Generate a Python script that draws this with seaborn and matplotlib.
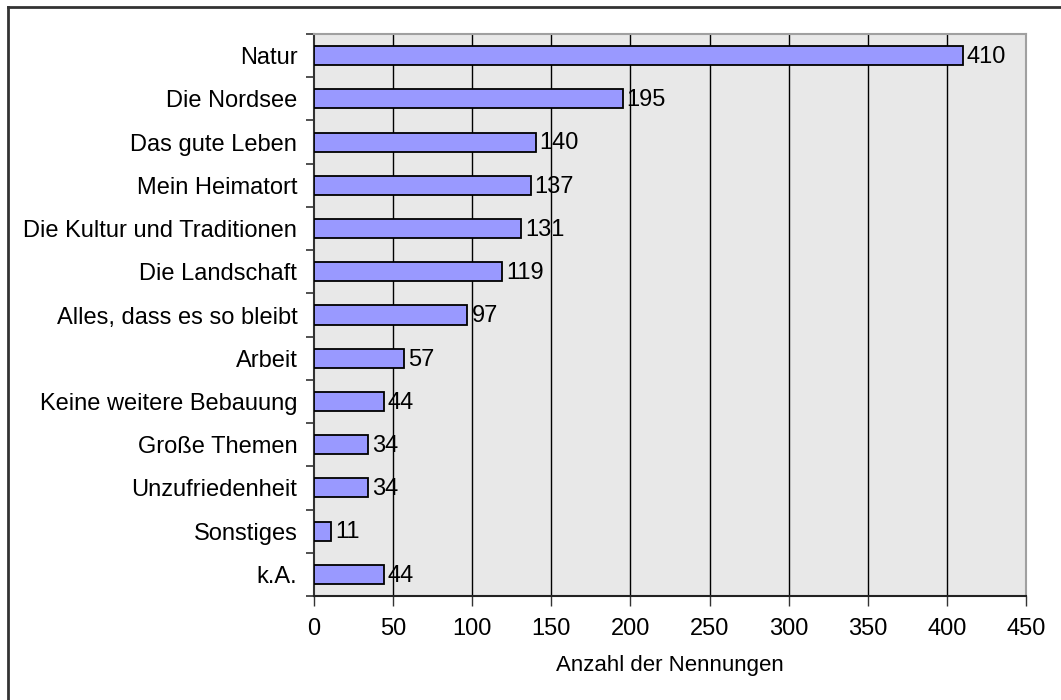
import matplotlib
matplotlib.use("Agg")
import matplotlib.pyplot as plt
from matplotlib.lines import Line2D
import seaborn as sns
import pandas as pd

categories = ["Natur", "Die Nordsee", "Das gute Leben", "Mein Heimatort",
              "Die Kultur und Traditionen", "Die Landschaft",
              "Alles, dass es so bleibt", "Arbeit", "Keine weitere Bebauung",
              "Große Themen", "Unzufriedenheit", "Sonstiges", "k.A."]
values = [410, 195, 140, 137, 131, 119, 97, 57, 44, 34, 34, 11, 44]
xticks = [0, 50, 100, 150, 200, 250, 300, 350, 400, 450]
xlabel = "Anzahl der Nennungen"

plt.rcParams['font.family'] = ['Liberation Sans', 'DejaVu Sans']
FS = 17.0

df = pd.DataFrame({"cat": categories, "val": values})

fig = plt.figure(figsize=(10.61, 7.0), dpi=100)
ax = fig.add_axes([314/1061, 1-596/700, (1026-314)/1061, (596-34)/700])
ax.set_facecolor("#E8E8E8")

sns.barplot(data=df, y="cat", x="val", orient="h", color="#9999FF",
            saturation=1, width=0.44, edgecolor="black", linewidth=1.3,
            ax=ax, zorder=3)

for i, v in enumerate(values):
    ax.text(v + 2.5, i + 0.03, str(v), va="center", ha="left", fontsize=FS, zorder=4)

ax.set_xlim(0, 450)
ax.set_ylim(len(categories) - 0.5, -0.5)
ax.set_xticks(xticks)
ax.set_xticklabels([str(t) for t in xticks], fontsize=FS)
ax.set_yticks(range(len(categories)))
ax.set_yticklabels(categories, fontsize=FS)
ax.set_yticks([i - 0.5 for i in range(len(categories) + 1)], minor=True)
ax.tick_params(axis="y", which="major", length=0, pad=12)
ax.tick_params(axis="y", which="minor", length=6, width=1.2, color="#333333")
ax.tick_params(axis="x", which="major", length=7, width=1, color="#333333", pad=9)
ax.set_xlabel(xlabel, fontsize=16, labelpad=11)
ax.set_ylabel("")

ax.grid(False)
for t in xticks[1:-1]:
    ax.axvline(t, color="black", linewidth=1, zorder=1)

ax.spines["top"].set_color("#A0A0A0")
ax.spines["right"].set_color("#A0A0A0")
ax.spines["top"].set_linewidth(1.5)
ax.spines["right"].set_linewidth(1.5)
ax.spines["left"].set_color("#333333")
ax.spines["bottom"].set_color("#222222")
ax.spines["left"].set_linewidth(1.5)
ax.spines["bottom"].set_linewidth(1.5)

fig.add_artist(Line2D([8/1061, 8/1061], [0, 1-7/700], color="#333333", linewidth=2, transform=fig.transFigure))
fig.add_artist(Line2D([8/1061, 1], [1-7/700, 1-7/700], color="#333333", linewidth=2, transform=fig.transFigure))

fig.savefig("out.png", dpi=100)
